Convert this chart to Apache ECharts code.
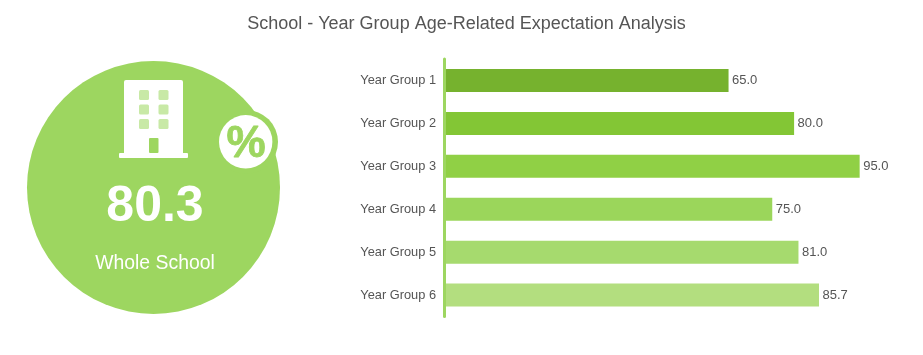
<!DOCTYPE html>
<html><head><meta charset="utf-8">
<style>html,body{margin:0;padding:0;background:#fff}#c{width:923px;height:355px}</style>
<script src="https://cdn.jsdelivr.net/npm/echarts@6/dist/echarts.min.js"></script>
</head><body><div id="c"></div>
<script>
const titleText = 'School - Year Group Age-Related Expectation Analysis';
const categories = ['Year Group 1','Year Group 2','Year Group 3','Year Group 4','Year Group 5','Year Group 6'];
const values = [65.0,80.0,95.0,75.0,81.0,85.7];
const barColors = ['#76b22e','#83c635','#90d045','#9bd65b','#a6da6e','#b3de7f'];
const wholeValue = '80.3';
const wholeLabel = 'Whole School';
const font = '"Liberation Sans", Arial, sans-serif';
const green = '#9dd660';
const win = (x,y)=>({type:'rect',shape:{x,y,width:10,height:10,r:1.5},style:{fill:'#c8e9a6'},z:13});
const chart = echarts.init(document.getElementById('c'),null,{renderer:'canvas'});
chart.setOption({
  animation:false,
  textStyle:{fontFamily:font},
  title:{text:titleText,left:461.5,top:10,textAlign:'center',textStyle:{fontFamily:font,fontSize:18,fontWeight:'normal',color:'#555'}},
  grid:{left:444.5,top:59,width:437,height:257.5,containLabel:false},
  xAxis:{type:'value',min:0,max:100,show:false},
  yAxis:{type:'category',inverse:true,data:categories,z:5,
    axisLine:{show:true,lineStyle:{color:green,width:3,cap:'round'}},
    axisTick:{show:false},
    axisLabel:{color:'#555',fontSize:12.8,margin:8.5,fontFamily:font}},
  series:[{type:'bar',barWidth:23,
    data:values.map((v,i)=>({value:v,itemStyle:{color:barColors[i]}})),
    label:{show:true,position:'right',distance:3.5,color:'#555',fontSize:13,fontFamily:font,formatter:p=>p.value.toFixed(1)}}],
  graphic:[
    {type:'circle',shape:{cx:153.5,cy:187.5,r:126.5},style:{fill:green},z:10},
    {type:'circle',shape:{cx:246,cy:142,r:32},style:{fill:green},z:10},
    {type:'circle',shape:{cx:245.7,cy:141.8,r:26.7},style:{fill:'#fff'},z:12},
    {type:'text',style:{x:246,y:145,text:'%',fill:green,stroke:green,lineWidth:0.8,font:'bold 44px '+font,textAlign:'center',textVerticalAlign:'middle'},z:13},
    {type:'rect',shape:{x:124,y:80,width:59,height:75,r:[2,2,0,0]},style:{fill:'#fff'},z:12},
    {type:'rect',shape:{x:119,y:153,width:69,height:5,r:1},style:{fill:'#fff'},z:12},
    win(139,90),win(158.5,90),win(139,104.5),win(158.5,104.5),win(139,119),win(158.5,119),
    {type:'rect',shape:{x:149,y:138,width:9.5,height:15,r:1},style:{fill:green},z:13},
    {type:'text',style:{x:155,y:207,text:wholeValue,fill:'#fff',font:'bold 50px '+font,textAlign:'center',textVerticalAlign:'middle'},z:13},
    {type:'text',style:{x:155,y:264,text:wholeLabel,fill:'#fff',font:'19.4px '+font,textAlign:'center',textVerticalAlign:'middle'},z:13}
  ]
});
</script></body></html>
